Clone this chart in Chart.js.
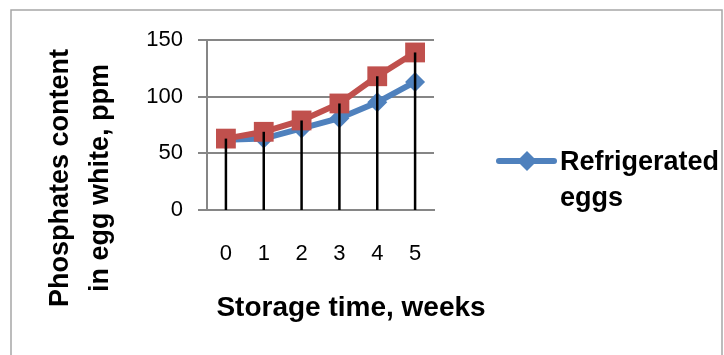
<!DOCTYPE html>
<html>
<head>
<meta charset="utf-8">
<script src="https://cdn.jsdelivr.net/npm/chart.js@4.4.0/dist/chart.umd.min.js"></script>
<style>
  html, body { margin: 0; padding: 0; background: #fff; }
  #wrap { position: relative; width: 724px; height: 355px; }
</style>
</head>
<body>
<div id="wrap"><canvas id="chart" width="724" height="355"></canvas></div>
<script>
// Data
const weeks = ["0", "1", "2", "3", "4", "5"];
const refrigerated = [62, 63, 72, 81, 95, 113];
const secondSeries = [63, 69, 79, 94, 118, 139];
const yTicks = [0, 50, 100, 150];

const yTitle = ["Phosphates content", "in egg white, ppm"];
const xTitle = "Storage time, weeks";
const legendText = ["Refrigerated", "eggs"];

const blue = "#4F81BD";
const red = "#C0504D";
const grey = "#868686";
const font = "'Liberation Sans', Arial, sans-serif";

// outer frame, axis titles and legend
const decor = {
  id: "decor",
  beforeDraw(chart) {
    const ctx = chart.ctx;
    ctx.save();
    ctx.strokeStyle = "#a6a6a6";
    ctx.lineWidth = 1.5;
    ctx.strokeRect(11, 10, 711, 360);
    ctx.restore();
  },
  afterDraw(chart) {
    const ctx = chart.ctx;
    const a = chart.chartArea;
    ctx.save();
    ctx.fillStyle = "#000";

    // y title, rotated
    ctx.font = "bold 27px " + font;
    ctx.textAlign = "center";
    ctx.textBaseline = "middle";
    ctx.translate(a.left - 146, a.top + 138);
    ctx.rotate(-Math.PI / 2);
    ctx.fillText(yTitle[0], 0, 0);
    ctx.fillText(yTitle[1], 0, 40);
    ctx.setTransform(1, 0, 0, 1, 0, 0);

    // x title
    ctx.font = "bold 28px " + font;
    ctx.textBaseline = "alphabetic";
    ctx.fillText(xTitle, a.left + 144, a.bottom + 106);

    // legend
    const lx = a.right + 65, ly = a.top + 121;
    ctx.strokeStyle = blue;
    ctx.lineWidth = 6;
    ctx.lineCap = "round";
    ctx.beginPath();
    ctx.moveTo(lx, ly);
    ctx.lineTo(lx + 55, ly);
    ctx.stroke();
    ctx.fillStyle = blue;
    ctx.beginPath();
    ctx.moveTo(lx + 28, ly - 10);
    ctx.lineTo(lx + 38, ly);
    ctx.lineTo(lx + 28, ly + 10);
    ctx.lineTo(lx + 18, ly);
    ctx.closePath();
    ctx.fill();
    ctx.fillStyle = "#000";
    ctx.font = "bold 27px " + font;
    ctx.textAlign = "left";
    ctx.fillText(legendText[0], lx + 61, ly + 9);
    ctx.fillText(legendText[1], lx + 61, ly + 45);
    ctx.restore();
  }
};

// black drop lines from the top point of each week down to zero
const dropLines = {
  id: "dropLines",
  afterDatasetsDraw(chart) {
    const ctx = chart.ctx;
    const x = chart.scales.x, y = chart.scales.y;
    ctx.save();
    ctx.strokeStyle = "#000";
    ctx.lineWidth = 2.5;
    weeks.forEach((w, i) => {
      const top = Math.max(refrigerated[i], secondSeries[i]);
      const px = x.getPixelForValue(i);
      ctx.beginPath();
      ctx.moveTo(px, y.getPixelForValue(top));
      ctx.lineTo(px, y.getPixelForValue(0));
      ctx.stroke();
    });
    ctx.restore();
  }
};

new Chart(document.getElementById("chart"), {
  type: "line",
  data: {
    labels: weeks,
    datasets: [
      {
        label: "Refrigerated eggs",
        data: refrigerated,
        borderColor: blue,
        backgroundColor: blue,
        borderWidth: 6,
        pointStyle: "rectRot",
        pointRadius: 10,
        pointBorderWidth: 0,
        tension: 0,
        order: 1
      },
      {
        label: "",
        data: secondSeries,
        borderColor: red,
        backgroundColor: red,
        borderWidth: 6,
        pointStyle: "rect",
        pointRadius: 14,
        pointBorderWidth: 0,
        tension: 0,
        order: 0
      }
    ]
  },
  options: {
    responsive: false,
    animation: false,
    layout: { padding: { left: 0, top: 40, right: 290, bottom: 0 } },
    plugins: { legend: { display: false }, tooltip: { enabled: false } },
    scales: {
      x: {
        offset: true,
        afterFit: s => { s.height = 145; },
        grid: { display: false },
        border: { display: true, color: grey, width: 2 },
        ticks: { color: "#000", font: { family: font, size: 22 }, padding: 23 }
      },
      y: {
        min: 0,
        max: 150,
        afterFit: s => { s.width = 207; },
        afterBuildTicks: s => { s.ticks = yTicks.map(v => ({ value: v })); },
        grid: { color: grey, lineWidth: 2, tickLength: 9 },
        border: { display: true, color: grey, width: 2 },
        ticks: { color: "#000", font: { family: font, size: 22 }, padding: 15 }
      }
    }
  },
  plugins: [decor, dropLines]
});
</script>
</body>
</html>
